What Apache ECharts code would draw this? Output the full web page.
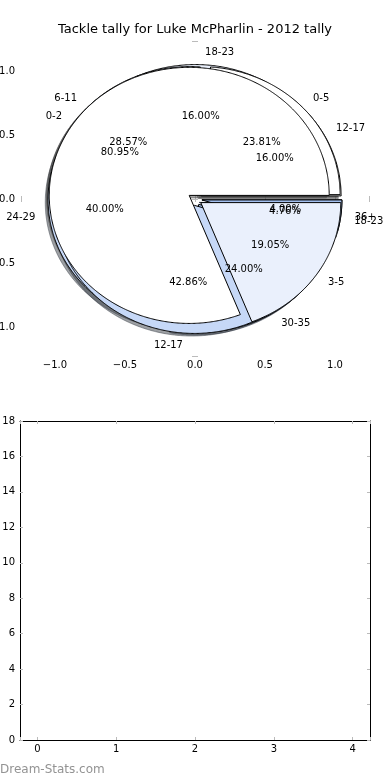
<!DOCTYPE html>
<html><head><meta charset="utf-8">
<script src="https://cdn.jsdelivr.net/npm/echarts@6/dist/echarts.min.js"></script>
<style>html,body{margin:0;padding:0;background:#fff}#c{width:390px;height:780px}</style>
</head><body><div id="c"></div>
<script>
// ---- data ----
const chartTitle = 'Tackle tally for Luke McPharlin - 2012 tally';
const watermark = 'Dream-Stats.com';
const pie1Labels = ['12-17', '18-23', '24-29', '30-35', '36+'];
const pie1Values = [4, 4, 10, 6, 1];
const pie2Labels = ['0-5', '6-11', '12-17', '18-23'];
const pie2Values = [5, 6, 9, 1];
const pie3Labels = ['0-2', '3-5'];
const pie3Values = [17, 4];
const sliceColors = ['#ffffff', '#eaf0fc', '#c6d8f7', '#a3c0f0', '#7fa8e8'];
const emptyBarValues = []; // the lower panel holds no bars

const FONT = 'DejaVu Sans';
const pies = [
  { labels: pie1Labels, values: pie1Values },
  { labels: pie2Labels, values: pie2Values },
  { labels: pie3Labels, values: pie3Values }
];
const EXPLODE = 0.05, RADIUS = 1, LABEL_D = 1.1, PCT_D = 0.6, SHX = -0.02, SHY = -0.02;

function geom(p, i) {
  const v = pies[p].values;
  const tot = v.reduce((a, b) => a + b, 0);
  let s = 0;
  for (let j = 0; j < i; j++) s += v[j];
  const t1 = 360 * s / tot, t2 = 360 * (s + v[i]) / tot;
  const tm = (t1 + t2) / 2 * Math.PI / 180;
  return { t1, t2, tm, frac: v[i] / tot, cx: EXPLODE * Math.cos(tm), cy: EXPLODE * Math.sin(tm) };
}
function wedgePts(g, ox, oy, api) {
  const pts = [api.coord([g.cx + ox, g.cy + oy])];
  const n = Math.max(2, Math.ceil((g.t2 - g.t1) / 0.5));
  for (let k = 0; k <= n; k++) {
    const a = (g.t1 + (g.t2 - g.t1) * k / n) * Math.PI / 180;
    pts.push(api.coord([g.cx + ox + RADIUS * Math.cos(a), g.cy + oy + RADIUS * Math.sin(a)]));
  }
  return pts;
}
function shade(hex) {
  const r = parseInt(hex.slice(1, 3), 16), g = parseInt(hex.slice(3, 5), 16), b = parseInt(hex.slice(5, 7), 16);
  return 'rgba(' + Math.round(r * 0.3) + ',' + Math.round(g * 0.3) + ',' + Math.round(b * 0.3) + ',0.5)';
}

const shadowData = [];
pies.forEach((pie, p) => pie.values.forEach((v, i) => shadowData.push([p, i, v])));

const series = [];
series.push({
  type: 'custom', coordinateSystem: 'cartesian2d', xAxisIndex: 0, yAxisIndex: 0, z: 1, clip: false, silent: true,
  data: shadowData,
  renderItem: function (params, api) {
    const p = api.value(0), i = api.value(1);
    const g = geom(p, i);
    const c = shade(sliceColors[i % sliceColors.length]);
    return { type: 'polygon', shape: { points: wedgePts(g, SHX, SHY, api) }, style: { fill: c, stroke: c, lineWidth: 1 } };
  }
});
pies.forEach((pie, p) => {
  series.push({
    type: 'custom', coordinateSystem: 'cartesian2d', xAxisIndex: 0, yAxisIndex: 0, z: 2, clip: false, silent: true,
    data: pie.values.map((v, i) => [i, v]),
    renderItem: function (params, api) {
      const i = params.dataIndex;
      const g = geom(p, i);
      return { type: 'polygon', shape: { points: wedgePts(g, 0, 0, api) }, style: { fill: sliceColors[i % sliceColors.length], stroke: '#000', lineWidth: 1 } };
    }
  });
});
pies.forEach((pie, p) => {
  series.push({
    type: 'custom', coordinateSystem: 'cartesian2d', xAxisIndex: 0, yAxisIndex: 0, z: 3, clip: false, silent: true,
    data: pie.values.map((v, i) => [i, v]),
    renderItem: function (params, api) {
      const i = params.dataIndex;
      const g = geom(p, i);
      const lx = g.cx + LABEL_D * RADIUS * Math.cos(g.tm), ly = g.cy + LABEL_D * RADIUS * Math.sin(g.tm);
      const px = g.cx + PCT_D * RADIUS * Math.cos(g.tm), py = g.cy + PCT_D * RADIUS * Math.sin(g.tm);
      const lp = api.coord([lx, ly]), pp = api.coord([px, py]);
      return {
        type: 'group', children: [
          { type: 'text', x: lp[0], y: lp[1], style: { text: pie.labels[i], fill: '#000', font: '10px "' + FONT + '"', align: lx > 0 ? 'left' : 'right', verticalAlign: 'middle' } },
          { type: 'text', x: pp[0], y: pp[1], style: { text: (g.frac * 100).toFixed(2) + '%', fill: '#000', font: '10px "' + FONT + '"', align: 'center', verticalAlign: 'middle' } }
        ]
      };
    }
  });
});
series.push({ type: 'bar', xAxisIndex: 2, yAxisIndex: 2, data: emptyBarValues });

function fmtHalf(v) {
  if (Math.abs(v * 2 - Math.round(v * 2)) > 1e-6) return '';
  if (Math.abs(v) < 1e-9) return '0.0';
  return v < 0 ? '\u2212' + (-v).toFixed(1) : v.toFixed(1);
}
function fmtInt(v) {
  if (Math.abs(v - Math.round(v)) > 1e-6) return '';
  return String(Math.round(v));
}
const tick = { show: true, inside: true, length: 3, lineStyle: { color: '#bbbbbb', width: 1 } };
const lbl = { color: '#000', fontSize: 10, fontFamily: FONT };
const frame = { show: true, onZero: false, lineStyle: { color: '#000', width: 1 } };

const option = {
  animation: false,
  backgroundColor: '#ffffff',
  title: [
    { text: chartTitle, left: 'center', top: 23, padding: 0, textStyle: { fontFamily: FONT, fontSize: 13, fontWeight: 'normal', color: '#000' } },
    { text: watermark, left: 0, top: 764, padding: 0, textStyle: { fontFamily: FONT, fontSize: 12, fontWeight: 'normal', color: '#939393' } }
  ],
  grid: [
    { left: 21, right: 21, top: 41.5, height: 315, containLabel: false, outerBoundsMode: 'none' },
    { left: 20, right: 20, top: 421, height: 319, containLabel: false, outerBoundsMode: 'none' }
  ],
  xAxis: [
    { gridIndex: 0, type: 'value', position: 'bottom', min: -1.243, max: 1.243, splitNumber: 5, axisLine: { show: false }, axisTick: tick, splitLine: { show: false }, axisLabel: Object.assign({ margin: 4, formatter: fmtHalf }, lbl) },
    { gridIndex: 0, type: 'value', position: 'top', min: -1.243, max: 1.243, splitNumber: 5, axisLine: { show: false }, axisTick: tick, splitLine: { show: false }, axisLabel: { show: false } },
    { gridIndex: 1, type: 'value', position: 'bottom', min: -0.22, max: 4.22, splitNumber: 5, axisLine: frame, axisTick: tick, splitLine: { show: false }, axisLabel: Object.assign({ margin: 4, formatter: fmtInt }, lbl) },
    { gridIndex: 1, type: 'value', position: 'top', min: -0.22, max: 4.22, splitNumber: 5, axisLine: frame, axisTick: tick, splitLine: { show: false }, axisLabel: { show: false } }
  ],
  yAxis: [
    { gridIndex: 0, type: 'value', position: 'left', min: -1.23, max: 1.23, splitNumber: 5, axisLine: { show: false }, axisTick: tick, splitLine: { show: false }, axisLabel: Object.assign({ margin: 6, formatter: fmtHalf }, lbl) },
    { gridIndex: 0, type: 'value', position: 'right', min: -1.23, max: 1.23, splitNumber: 5, axisLine: { show: false }, axisTick: tick, splitLine: { show: false }, axisLabel: { show: false } },
    { gridIndex: 1, type: 'value', position: 'left', min: 0, max: 18, interval: 2, axisLine: frame, axisTick: tick, splitLine: { show: false }, axisLabel: Object.assign({ margin: 5, formatter: fmtInt }, lbl) },
    { gridIndex: 1, type: 'value', position: 'right', min: 0, max: 18, interval: 2, axisLine: frame, axisTick: tick, splitLine: { show: false }, axisLabel: { show: false } }
  ],
  series: series
};
const chart = echarts.init(document.getElementById('c'), null, { renderer: 'canvas' });
chart.setOption(option);
</script>
</body></html>
